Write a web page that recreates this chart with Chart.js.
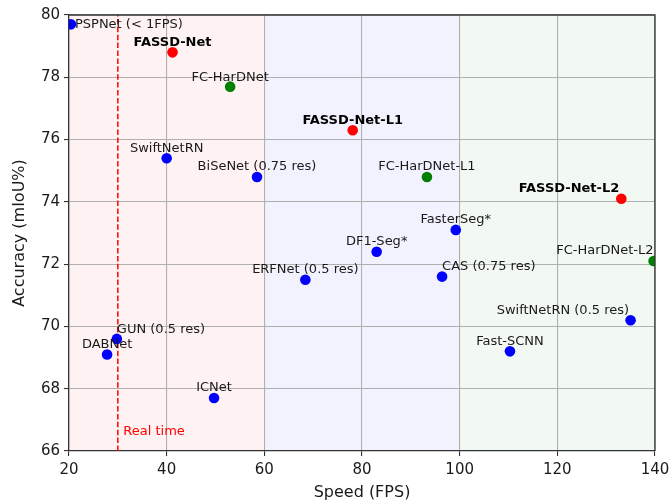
<!DOCTYPE html>
<html><head><meta charset="utf-8">
<script src="https://cdn.jsdelivr.net/npm/chart.js@4.4.1/dist/chart.umd.min.js"></script>
<style>html,body{margin:0;padding:0;background:#fff}#wrap{width:670px;height:502px}</style>
</head><body><div id="wrap"><canvas id="c" width="670" height="502"></canvas></div>
<script>
// ---- data ----
const models = ['PSPNet (< 1FPS)','FASSD-Net','FC-HarDNet','FASSD-Net-L1','SwiftNetRN','BiSeNet (0.75 res)','FC-HarDNet-L1','FASSD-Net-L2','FasterSeg*','DF1-Seg*','FC-HarDNet-L2','CAS (0.75 res)','ERFNet (0.5 res)','SwiftNetRN (0.5 res)','Fast-SCNN','GUN (0.5 res)','DABNet','ICNet'];
const speedFPS = [20.4,41.2,53.0,78.1,40.0,58.5,93.3,133.1,99.2,83.0,139.7,96.4,68.4,135.0,110.3,29.8,27.8,49.7];
const accuracyMIoU = [79.7,78.8,77.7,76.3,75.4,74.8,74.8,74.1,73.1,72.4,72.1,71.6,71.5,70.2,69.2,69.6,69.1,67.7];
const family = ['other','fassd','hardnet','fassd','other','other','hardnet','fassd','other','other','hardnet','other','other','other','other','other','other','other'];
const xTickValues = [20,40,60,80,100,120,140];
const yTickValues = [66,68,70,72,74,76,78,80];
const speedBands = [[20,60],[60,100],[100,140]];
const realTimeFPS = 30;
const realTimeLabel = 'Real time';
const realTimeLabelY = 66.5;

// ---- styling / label placement (not data) ----
const familyColor = {other:'#0000ff', fassd:'#ff0000', hardnet:'#008000'};
const bandColors = ['rgba(255,0,0,0.05)','rgba(0,0,255,0.05)','rgba(0,128,0,0.05)'];
// [align, dx, dy(baseline)]
const labelPlace = [
  ['left',4,4],
  ['center',0,-6],
  ['center',0,-6],
  ['center',0,-6],
  ['center',0,-6.5],
  ['center',0,-7],
  ['center',0,-7],
  ['right',-2,-6.5],
  ['center',0,-7],
  ['center',0,-6.5],
  ['right',0,-7],
  ['left',0,-7],
  ['center',0,-6.5],
  ['right',-1.5,-6.5],
  ['center',0,-6.5],
  ['left',0,-6],
  ['center',0,-6.5],
  ['center',0,-7]
];
const FONT = 'DejaVu Sans';
const TXT = '#1a1a1a';

const groups = [['other','Others'],['fassd','FASSD-Net'],['hardnet','FC-HarDNet']];
const datasets = groups.map(([key,name]) => ({
  label: name,
  data: models.map((m,i)=>family[i]===key ? {x:speedFPS[i], y:accuracyMIoU[i]} : null).filter(Boolean),
  backgroundColor: familyColor[key],
  borderWidth: 0,
  pointRadius: 5.3,
  pointHoverRadius: 5.3,
  clip: 0
}));

const decor = {
  id:'decor',
  beforeDraw(chart){
    const {ctx, chartArea:a, scales:{x,y}} = chart;
    ctx.save();
    speedBands.forEach((b,i)=>{
      const x0 = x.getPixelForValue(b[0]), x1 = x.getPixelForValue(b[1]);
      ctx.fillStyle = bandColors[i];
      ctx.fillRect(x0, a.top, x1-x0, a.bottom-a.top);
    });
    ctx.restore();
  },
  beforeDatasetsDraw(chart){
    const {ctx, chartArea:a, scales:{x,y}} = chart;
    const px = x.getPixelForValue(realTimeFPS);
    ctx.save();
    ctx.strokeStyle = '#ff0000';
    ctx.lineWidth = 1.5;
    ctx.setLineDash([5.5,2.4]);
    ctx.beginPath();
    ctx.moveTo(px, a.bottom); ctx.lineTo(px, a.top);
    ctx.stroke();
    ctx.setLineDash([]);
    ctx.fillStyle = '#ff0000';
    ctx.font = '13px "' + FONT + '"';
    ctx.textAlign = 'left';
    ctx.textBaseline = 'alphabetic';
    ctx.fillText(realTimeLabel, px + 5.5, y.getPixelForValue(realTimeLabelY));
    ctx.restore();
  },
  afterDatasetsDraw(chart){
    const {ctx, scales:{x,y}} = chart;
    ctx.save();
    ctx.textBaseline = 'alphabetic';
    models.forEach((m,i)=>{
      const px = x.getPixelForValue(speedFPS[i]);
      const py = y.getPixelForValue(accuracyMIoU[i]);
      const [al,dx,dy] = labelPlace[i];
      ctx.font = (family[i]==='fassd' ? 'bold ' : '') + '13px "' + FONT + '"';
      ctx.fillStyle = family[i]==='fassd' ? '#000' : TXT;
      ctx.textAlign = al;
      ctx.fillText(m, px+dx, py+dy);
    });
    ctx.restore();
  },
  afterDraw(chart){
    const {ctx, chartArea:a} = chart;
    ctx.save();
    ctx.strokeStyle = '#333';
    ctx.lineWidth = 1.3;
    ctx.beginPath();
    ctx.moveTo(a.left, a.top); ctx.lineTo(a.right, a.top); ctx.lineTo(a.right, a.bottom);
    ctx.stroke();
    ctx.restore();
  }
};

new Chart(document.getElementById('c'), {
  type:'scatter',
  data:{datasets},
  options:{
    responsive:false, animation:false, devicePixelRatio:1,
    layout:{padding:{top:15,right:15,left:1,bottom:0}},
    plugins:{legend:{display:false}, tooltip:{enabled:false}},
    scales:{
      x:{type:'linear', min:20, max:140,
        afterBuildTicks: s => { s.ticks = xTickValues.map(v=>({value:v})); },
        grid:{color:'#b0b0b0', lineWidth:1.1, tickLength:5, tickColor:'#333'},
        border:{color:'#333', width:1.3},
        ticks:{font:{family:FONT, size:15}, color:TXT, padding:5, maxRotation:0, autoSkip:false},
        title:{display:true, text:'Speed (FPS)', font:{family:FONT, size:16}, color:TXT, padding:0},
        afterFit: s => { s.height = 51; s.paddingLeft = 0; s.paddingRight = 0; }
      },
      y:{type:'linear', min:66, max:80,
        afterBuildTicks: s => { s.ticks = yTickValues.map(v=>({value:v})); },
        grid:{color:'#b0b0b0', lineWidth:1.1, tickLength:5, tickColor:'#333'},
        border:{color:'#333', width:1.3},
        ticks:{font:{family:FONT, size:15}, color:TXT, padding:4, autoSkip:false},
        title:{display:true, text:'Accuracy (mIoU%)', font:{family:FONT, size:16}, color:TXT, padding:{top:9, bottom:0}},
        afterFit: s => { s.width = 68; s.paddingTop = 0; s.paddingBottom = 0; }
      }
    }
  },
  plugins:[decor]
});
</script></body></html>
